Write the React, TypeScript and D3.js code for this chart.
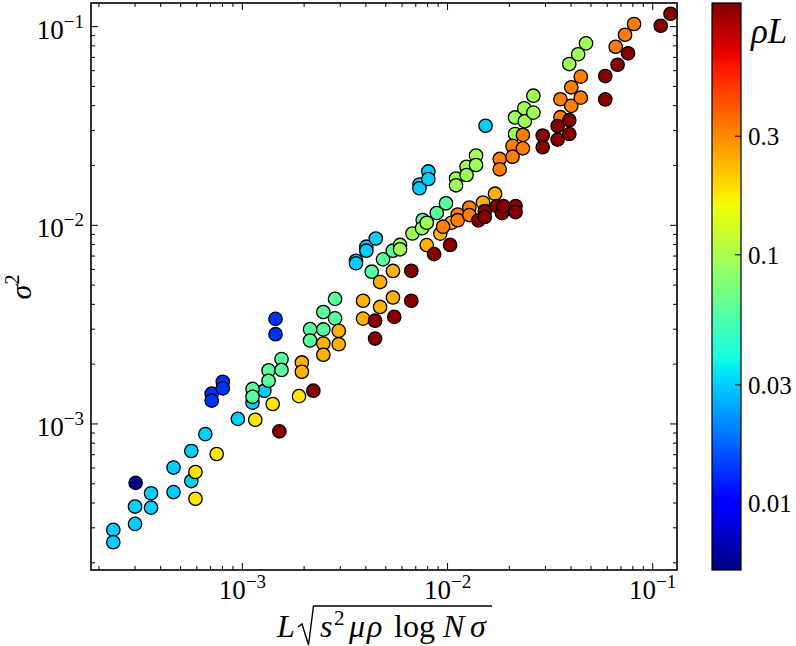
import React from "react";
import * as d3 from "d3";

// ---------- data ----------
// colour value (rho*L) of every point group
const rhoLevels = [0.0055, 0.0135, 0.03, 0.06, 0.094, 0.18, 0.24, 0.32, 1.0];

// [x, sigma^2] pairs per rho*L group
const groupDarkBlue: [number, number][] = [[3.02e-4, 5.05e-4]];
const groupBlue: [number, number][] = [
  [7.09e-4, 1.42e-3], [7.09e-4, 1.31e-3], [8.03e-4, 1.63e-3], [8.03e-4, 1.51e-3],
  [1.451e-3, 3.38e-3], [1.451e-3, 2.83e-3],
];
const groupCyan: [number, number][] = [
  [2.35e-4, 2.93e-4], [2.35e-4, 2.54e-4], [3.0e-4, 3.84e-4], [3.0e-4, 3.14e-4],
  [3.59e-4, 4.48e-4], [3.59e-4, 3.79e-4], [4.62e-4, 6.03e-4], [4.62e-4, 4.54e-4],
  [5.64e-4, 7.31e-4], [5.64e-4, 5.16e-4], [6.6e-4, 8.89e-4], [9.51e-4, 1.06e-3],
  [1.121e-3, 1.28e-3], [1.28e-3, 1.47e-3], [3.58e-3, 6.63e-3], [3.58e-3, 6.44e-3],
  [4.02e-3, 7.8e-3], [4.02e-3, 7.45e-3], [4.47e-3, 8.58e-3], [7.3e-3, 1.604e-2],
  [7.3e-3, 1.536e-2], [8.06e-3, 1.866e-2], [8.06e-3, 1.71e-2], [1.532e-2, 3.17e-2],
];
const groupAqua: [number, number][] = [
  [1.121e-3, 1.5e-3], [1.121e-3, 1.37e-3], [1.342e-3, 1.86e-3], [1.342e-3, 1.65e-3],
  [1.552e-3, 2.12e-3], [1.552e-3, 1.87e-3], [2.138e-3, 3.0e-3], [2.138e-3, 2.63e-3],
  [2.481e-3, 3.66e-3], [2.481e-3, 2.99e-3], [2.83e-3, 4.26e-3], [2.83e-3, 3.4e-3],
  [4.27e-3, 5.84e-3], [4.85e-3, 6.74e-3], [5.41e-3, 7.45e-3], [7.57e-3, 1.063e-2],
  [8.86e-3, 1.153e-2], [9.83e-3, 1.29e-2],
];
const groupLightGreen: [number, number][] = [
  [5.87e-3, 7.96e-3], [5.87e-3, 7.57e-3], [6.75e-3, 9.09e-3], [7.51e-3, 9.66e-3],
  [7.92e-3, 1.03e-2], [1.1e-2, 1.719e-2], [1.1e-2, 1.59e-2], [1.238e-2, 1.97e-2],
  [1.238e-2, 1.791e-2], [1.377e-2, 2.245e-2], [1.377e-2, 2.011e-2], [2.133e-2, 3.49e-2],
  [2.133e-2, 2.88e-2], [2.365e-2, 3.88e-2], [2.38e-2, 3.34e-2], [2.62e-2, 4.49e-2],
  [2.62e-2, 3.69e-2], [3.92e-2, 6.48e-2], [4.33e-2, 7.26e-2], [4.73e-2, 8.24e-2],
];
const groupYellow: [number, number][] = [
  [5.91e-4, 5.73e-4], [5.91e-4, 4.2e-4], [7.5e-4, 7.06e-4], [1.156e-3, 1.05e-3],
  [1.406e-3, 1.26e-3], [1.889e-3, 1.38e-3],
];
const groupAmber: [number, number][] = [
  [1.95e-3, 2.04e-3], [1.95e-3, 1.83e-3], [2.481e-3, 2.54e-3], [2.481e-3, 2.23e-3],
  [2.95e-3, 2.94e-3], [2.95e-3, 2.52e-3], [3.875e-3, 4.17e-3], [3.875e-3, 3.39e-3],
  [4.69e-3, 5.18e-3], [4.69e-3, 3.88e-3], [5.42e-3, 5.89e-3], [5.42e-3, 4.33e-3],
  [7.92e-3, 7.95e-3], [9.22e-3, 9.08e-3], [1.044e-2, 1.03e-2], [1.489e-2, 1.302e-2],
  [1.704e-2, 1.442e-2],
];
const groupOrange: [number, number][] = [
  [9.51e-3, 9.84e-3], [1.121e-2, 1.133e-2], [1.121e-2, 1.061e-2], [1.277e-2, 1.229e-2],
  [1.277e-2, 1.126e-2], [1.796e-2, 2.157e-2], [1.796e-2, 1.913e-2], [2.074e-2, 2.51e-2],
  [2.074e-2, 2.214e-2], [2.33e-2, 2.85e-2], [2.33e-2, 2.44e-2], [3.55e-2, 4.31e-2],
  [3.55e-2, 3.5e-2], [4.01e-2, 4.95e-2], [4.01e-2, 3.99e-2], [4.46e-2, 5.6e-2],
  [4.46e-2, 4.39e-2], [6.6e-2, 7.92e-2], [7.33e-2, 9.1e-2], [8.11e-2, 1.031e-1],
];
const groupDarkRed: [number, number][] = [
  [1.515e-3, 9.17e-4], [2.218e-3, 1.47e-3], [4.435e-3, 3.31e-3], [4.435e-3, 2.69e-3],
  [5.5e-3, 3.46e-3], [6.66e-3, 5.9e-3], [6.66e-3, 4.17e-3], [8.6e-3, 7.16e-3],
  [1.029e-2, 7.96e-3], [1.413e-2, 1.059e-2], [1.518e-2, 1.18e-2], [1.518e-2, 1.101e-2],
  [1.737e-2, 1.249e-2], [1.843e-2, 1.151e-2], [1.87e-2, 1.249e-2], [2.145e-2, 1.249e-2],
  [2.145e-2, 1.166e-2], [2.91e-2, 2.83e-2], [2.91e-2, 2.47e-2], [3.44e-2, 3.16e-2],
  [3.44e-2, 2.7e-2], [3.92e-2, 3.38e-2], [3.92e-2, 2.88e-2], [5.87e-2, 5.64e-2],
  [5.87e-2, 4.3e-2], [6.74e-2, 6.43e-2], [7.58e-2, 7.34e-2], [1.094e-1, 1.01e-1],
  [1.221e-1, 1.161e-1],
];
const groups = [
  groupDarkBlue, groupBlue, groupCyan, groupAqua, groupLightGreen,
  groupYellow, groupAmber, groupOrange, groupDarkRed,
];

const xDomain = [1.83e-4, 0.1313];
const yDomain = [1.84e-4, 0.1315];
const colorDomain = [0.0054, 1.03];
const majorTicks = [1e-3, 1e-2, 1e-1];
const majorTickExps = ["\u22123", "\u22122", "\u22121"];
const colorTicks = [0.01, 0.03, 0.1, 0.3];
const colorTickLabels = ["0.01", "0.03", "0.1", "0.3"];

// ---------- jet colormap ----------
function seg(pts: number[][], t: number) {
  for (let i = 1; i < pts.length; i++) {
    if (t <= pts[i][0]) {
      const [t0, v0] = pts[i - 1];
      const [t1, v1] = pts[i];
      return v0 + ((v1 - v0) * (t - t0)) / (t1 - t0);
    }
  }
  return pts[pts.length - 1][1];
}
function jet(t: number) {
  t = Math.max(0, Math.min(1, t));
  const r = seg([[0, 0], [0.35, 0], [0.66, 1], [0.89, 1], [1, 0.5]], t);
  const g = seg([[0, 0], [0.125, 0], [0.375, 1], [0.64, 1], [0.91, 0], [1, 0]], t);
  const b = seg([[0, 0.5], [0.11, 1], [0.34, 1], [0.65, 0], [1, 0]], t);
  return d3.rgb(r * 255, g * 255, b * 255).formatHex();
}

const SERIF = "'Liberation Serif', 'DejaVu Serif', serif";

export default function App() {
  const left = 91, right = 677, top = 3, bottom = 570;
  const x = d3.scaleLog().domain(xDomain).range([left, right]);
  const y = d3.scaleLog().domain(yDomain).range([bottom, top]);
  const cNorm = d3.scaleLog().domain(colorDomain).range([0, 1]);
  const cbLeft = 712, cbRight = 741;
  const cbY = d3.scaleLog().domain(colorDomain).range([bottom, top]);

  const minor: number[] = [];
  for (let e = -4; e <= -1; e++) {
    for (let m = 2; m <= 9; m++) minor.push(m * Math.pow(10, e));
  }
  const xMinor = minor.filter((v) => v > xDomain[0] && v < xDomain[1]);
  const yMinor = minor.filter((v) => v > yDomain[0] && v < yDomain[1]);

  const stops = d3.range(0, 1.0001, 1 / 64);

  return (
    <svg width={796} height={646} style={{ display: "block", position: "absolute", left: 0, top: 0 }}>
      <defs>
        <linearGradient id="jetgrad" x1="0" y1="1" x2="0" y2="0">
          {stops.map((s, i) => (
            <stop key={i} offset={s} stopColor={jet(s)} />
          ))}
        </linearGradient>
      </defs>
      <rect x={0} y={0} width={796} height={646} fill="#fff" />

      {/* points */}
      {groups.map((g, gi) =>
        g.map((p, i) => (
          <circle
            key={gi + "-" + i}
            cx={x(p[0])}
            cy={y(p[1])}
            r={6.7}
            fill={jet(cNorm(rhoLevels[gi]))}
            stroke="#000"
            strokeWidth={1.3}
          />
        ))
      )}

      {/* ticks */}
      <g stroke="#000" strokeWidth={1}>
        {majorTicks.map((v) => (
          <g key={"xm" + v}>
            <line x1={x(v)} x2={x(v)} y1={bottom} y2={bottom - 7} />
            <line x1={x(v)} x2={x(v)} y1={top} y2={top + 7} />
            <line y1={y(v)} y2={y(v)} x1={left} x2={left + 7} />
            <line y1={y(v)} y2={y(v)} x1={right} x2={right - 7} />
          </g>
        ))}
        {xMinor.map((v) => (
          <g key={"xn" + v}>
            <line x1={x(v)} x2={x(v)} y1={bottom} y2={bottom - 4} />
            <line x1={x(v)} x2={x(v)} y1={top} y2={top + 4} />
          </g>
        ))}
        {yMinor.map((v) => (
          <g key={"yn" + v}>
            <line y1={y(v)} y2={y(v)} x1={left} x2={left + 4} />
            <line y1={y(v)} y2={y(v)} x1={right} x2={right - 4} />
          </g>
        ))}
      </g>
      <rect x={left} y={top} width={right - left} height={bottom - top} fill="none" stroke="#000" strokeWidth={1.6} />

      {/* tick labels */}
      <g fontFamily={SERIF} fill="#000">
        {majorTicks.map((v, i) => (
          <text key={"xl" + v} x={x(v)} y={599} fontSize={27} textAnchor="middle">
            10<tspan fontSize={19} dy={-11}>{majorTickExps[i]}</tspan>
          </text>
        ))}
        {majorTicks.map((v, i) => (
          <text key={"yl" + v} x={84} y={y(v) + 12} fontSize={27} textAnchor="end">
            10<tspan fontSize={19} dy={-11}>{majorTickExps[i]}</tspan>
          </text>
        ))}
      </g>

      {/* x axis title */}
      <g fontFamily={SERIF} fill="#000" fontSize={32}>
        <text x={277} y={637} fontStyle="italic">L</text>
        <path d="M298,627 L302,624 L308.5,645 L313.5,606 L492,606" fill="none" stroke="#000" strokeWidth={1.4} />
        <text x={320} y={637} fontStyle="italic">s</text>
        <text x={334} y={625} fontSize={21}>2</text>
        <text x={349} y={637} fontStyle="italic">μ</text>
        <text x={367} y={637} fontStyle="italic">ρ</text>
        <text x={394} y={637}>log</text>
        <text x={443} y={637} fontStyle="italic">N</text>
        <text x={470} y={637} fontStyle="italic">σ</text>
      </g>

      {/* y axis title */}
      <text transform="translate(31,287) rotate(-90)" fontFamily={SERIF} fontSize={30} textAnchor="middle">
        <tspan fontStyle="italic">σ</tspan>
        <tspan fontSize={20} dy={-12}>2</tspan>
      </text>

      {/* colour bar */}
      <rect x={cbLeft} y={top} width={cbRight - cbLeft} height={bottom - top} fill="url(#jetgrad)" stroke="#000" strokeWidth={1.2} />
      <g stroke="#000" strokeWidth={1}>
        {colorTicks.map((v) => (
          <line key={"ct" + v} x1={cbRight} x2={cbRight - 6} y1={cbY(v)} y2={cbY(v)} />
        ))}
      </g>
      <g fontFamily={SERIF} fontSize={25} fill="#000">
        {colorTicks.map((v, i) => (
          <text key={"cl" + v} x={748} y={cbY(v) + 9}>{colorTickLabels[i]}</text>
        ))}
      </g>
      <text x={751} y={43} fontFamily={SERIF} fontSize={35} fontStyle="italic">ρL</text>
    </svg>
  );
}
